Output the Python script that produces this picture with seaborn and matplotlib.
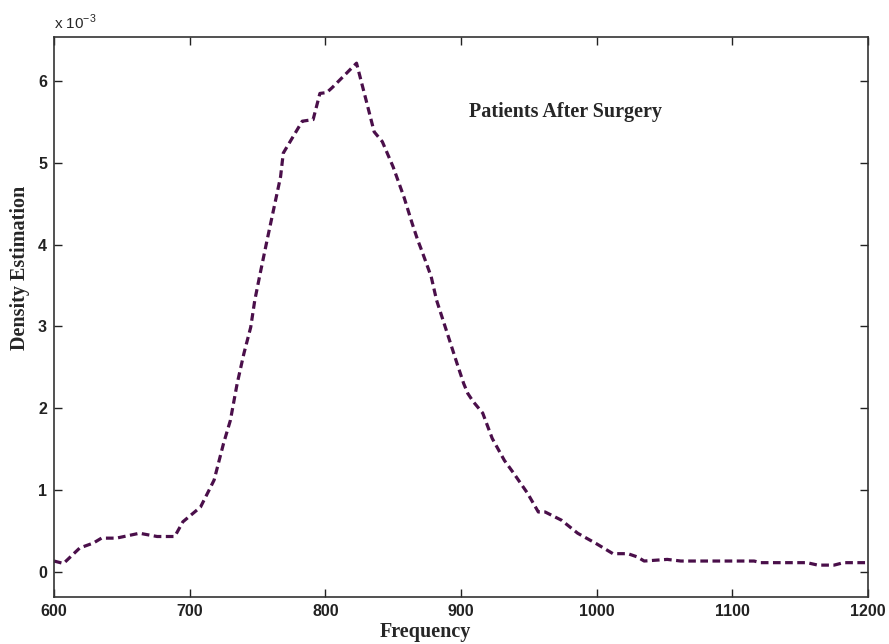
import matplotlib
matplotlib.use("Agg")
import matplotlib.pyplot as plt
import seaborn as sns
import pandas as pd

# Frequency values and density estimates (in units of 1e-3)
frequency = [600, 607, 619, 629, 635, 646, 663, 676, 689, 695, 708, 715, 718,
             725, 730, 735, 740, 745, 748, 752, 757, 767, 769, 783, 791, 796,
             801, 805, 823, 830, 836, 842, 850, 858, 864, 868, 871, 878, 882,
             890, 897, 902, 905, 909, 916, 923, 932, 939, 949, 957, 962, 974,
             986, 1000, 1012, 1023, 1030, 1035, 1052, 1062, 1116, 1121, 1155,
             1163, 1175, 1182, 1200]
density = [0.13, 0.10, 0.29, 0.35, 0.41, 0.41, 0.47, 0.43, 0.43, 0.61, 0.79,
           1.02, 1.12, 1.57, 1.85, 2.30, 2.67, 2.99, 3.32, 3.65, 4.05, 4.83,
           5.12, 5.51, 5.53, 5.85, 5.86, 5.92, 6.22, 5.77, 5.38, 5.26, 4.95,
           4.58, 4.26, 4.06, 3.93, 3.61, 3.32, 2.91, 2.55, 2.30, 2.18, 2.08,
           1.94, 1.63, 1.36, 1.20, 0.96, 0.73, 0.73, 0.63, 0.47, 0.34, 0.22,
           0.22, 0.18, 0.13, 0.15, 0.13, 0.13, 0.11, 0.11, 0.08, 0.08, 0.11,
           0.11]
x_ticks = [600, 700, 800, 900, 1000, 1100, 1200]
y_ticks = [0, 1, 2, 3, 4, 5, 6]

df = pd.DataFrame({"Frequency": frequency, "Density": density})

sns.set_style("ticks")
plt.rcParams["font.family"] = ["Liberation Sans", "DejaVu Sans"]

fig = plt.figure(figsize=(8.89, 6.44), dpi=100)
ax = fig.add_axes([54 / 889, 1 - 597 / 644, (868 - 54) / 889, (597 - 37) / 644])

sns.lineplot(data=df, x="Frequency", y="Density", ax=ax, color="#4a0f4a",
             linewidth=2.3, linestyle=(0, (2.4, 1.4)), estimator=None, sort=False)

ax.set_xlim(600, 1200)
ax.set_ylim(-0.31, 6.54)
ax.set_xticks(x_ticks)
ax.set_yticks(y_ticks)
ax.set_xticklabels([str(t) for t in x_ticks], fontweight="bold", fontsize=11.5)
ax.set_yticklabels([str(t) for t in y_ticks], fontweight="bold", fontsize=11.5)
ax.tick_params(direction="in", top=True, right=True, length=6, width=1,
               pad=5, colors="#222222")
for s in ax.spines.values():
    s.set_visible(True)
    s.set_linewidth(1.2)
    s.set_color("#333333")
ax.set_xlabel("")
ax.set_ylabel("")

fig.text(425 / 889, 1 - 632 / 644, "Frequency", ha="center", va="center",
         family="Liberation Serif", fontweight="bold", fontsize=14.5)
fig.text(20 / 889, 1 - 268 / 644, "Density Estimation", ha="center", va="center",
         rotation=90, family="Liberation Serif", fontweight="bold", fontsize=14.5)
fig.text(54 / 889, 1 - 22 / 644, r"x 10$^{\mathregular{-3}}$", ha="left",
         va="center", fontsize=11)
ax.text(977, 5.62, "Patients After Surgery", ha="center", va="center",
        family="Liberation Serif", fontweight="bold", fontsize=14.5)

fig.savefig("out.png", dpi=100)
